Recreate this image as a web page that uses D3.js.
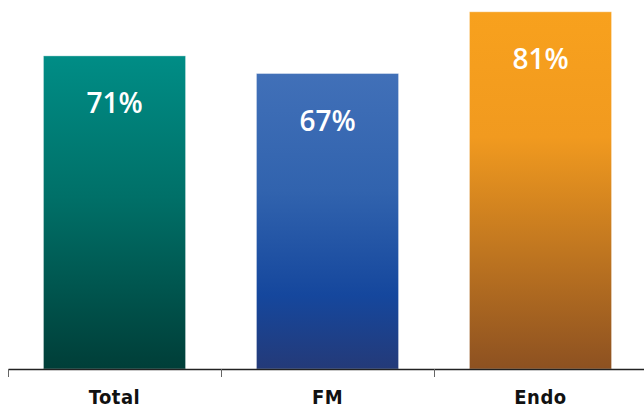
<!DOCTYPE html>
<html><head><meta charset="utf-8">
<script src="https://cdn.jsdelivr.net/npm/d3@7"></script>
<style>html,body{margin:0;padding:0;background:#fff;}svg{display:block;}</style>
</head><body>
<svg id="chart" width="644" height="409"></svg>
<script>
const categories = ["Total", "FM", "Endo"];
const values = [71, 67, 81];
const valueLabels = ["71%", "67%", "81%"];
const gradientStops = [
  [["0%", "#008d86"], ["45%", "#007068"], ["100%", "#003e38"]],
  [["0%", "#4170b8"], ["40%", "#3163ae"], ["75%", "#15479d"], ["100%", "#243a78"]],
  [["0%", "#f8a11d"], ["35%", "#f19a1f"], ["100%", "#8d5121"]]
];

const svg = d3.select("#chart");
const defs = svg.append("defs");
gradientStops.forEach((stops, i) => {
  const g = defs.append("linearGradient").attr("id", "g" + i)
    .attr("x1", 0).attr("y1", 0).attr("x2", 0).attr("y2", 1);
  stops.forEach(s => g.append("stop").attr("offset", s[0]).attr("stop-color", s[1]));
});

const x = d3.scaleBand().domain(categories).range([8, 647]).paddingInner(0.333).paddingOuter(0.1665);
const y = d3.scaleLinear().domain([0, 100]).range([369, -72]);

svg.selectAll("rect.bar").data(values).join("rect")
  .attr("class", "bar")
  .attr("x", (d, i) => x(categories[i]))
  .attr("y", d => y(d))
  .attr("width", x.bandwidth())
  .attr("height", d => y(0) - y(d))
  .attr("fill", (d, i) => `url(#g${i})`)
  .attr("stroke", "rgba(255,255,255,0.35)")
  .attr("stroke-width", 1);

svg.selectAll("text.val").data(values).join("text")
  .attr("class", "val")
  .attr("x", (d, i) => x(categories[i]) + x.bandwidth() / 2)
  .attr("y", d => y(d) + 57)
  .attr("text-anchor", "middle")
  .attr("fill", "#fff")
  .style("font-family", "'Open Sans', sans-serif")
  .style("font-weight", "600")
  .style("font-size", "28px")
  .text((d, i) => valueLabels[i]);

const xAxis = d3.axisBottom(d3.scaleLinear().domain([0, 3]).range([8, 647]))
  .tickValues([0, 1, 2, 3]).tickSizeInner(8).tickSizeOuter(0).tickFormat("");
const ax = svg.append("g").attr("transform", "translate(0,369)").call(xAxis);
ax.select(".domain").attr("stroke", "#222").attr("stroke-width", 1.3);
ax.selectAll(".tick line").attr("stroke", "#666");

svg.selectAll("text.cat").data(categories).join("text")
  .attr("class", "cat")
  .attr("x", d => x(d) + x.bandwidth() / 2)
  .attr("y", 404)
  .attr("text-anchor", "middle")
  .attr("fill", "#111")
  .style("font-family", "'Liberation Sans Narrow', 'DejaVu Sans Condensed', sans-serif")
  .style("font-weight", "bold")
  .style("font-size", "20px")
  .style("letter-spacing", "0.5px")
  .text(d => d);
</script>
</body></html>
